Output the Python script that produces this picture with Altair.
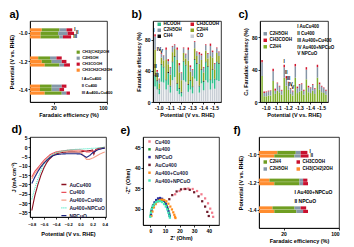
import altair as alt
import pandas as pd

FONT = "Liberation Sans"

# ---------------- data ----------------
# panel a
a_pots = ["-1.0", "-1.2", "-1.4"]
a_samples = ["I", "II", "III"]
a_key = ["I    AuCu400", "II   Cu400", "III  Au400+Cu400"]
a_legend = ["CH3(CH2)2OH", "C2H5OH", "CH3COOH", "CH3CH2CH2OH"]
a_colors = ["#6f9e22", "#8597a8", "#c8102e", "#ff8c2e"]
a_orange = [[10, 9, 9], [7, 10, 12.5], [8.5, 8.5, 12.5]]
a_green = [[15, 15, 16], [10, 8.5, 12.5], [10, 10, 14.5]]
a_gray = [[6, 8, 3], [5.5, 8.5, 4], [8.5, 6.5, 4]]
a_red = [[5, 5.5, 7], [4.5, 4, 5], [4, 4, 3]]
fe_ticks = [20, 40, 100]

# panel b / c
b_pots = ["-1.0", "-1.1", "-1.2", "-1.3", "-1.4", "-1.5"]
b_samples = ["I", "II", "III", "IV", "V"]
b_legend = ["HCOOH", "C2H5OH", "CH4", "CH3COOH", "C2H4", "CO"]
b_colors = ["#2fbf8c", "#8595a6", "#111111", "#d4152c", "#8ea324", "#c8ced5"]
b_CO = [[20, 16, 10, 26, 25], [16, 22, 12, 28, 32], [14, 10, 7, 28, 26],
        [13, 16, 11, 30, 27], [12, 24, 15, 28, 25], [16, 24, 17, 28, 27]]
b_HCOOH = [[14, 10.5, 6, 22, 19.5], [12, 15, 8, 23, 26], [9, 7, 5, 24, 21],
           [9, 11, 8, 24, 22], [8, 17, 11, 23, 20], [12, 17, 12, 23, 22]]
b_CH4 = [[1, 1.5, 1, 1, 1], [1, 1.5, 1, 1, 1], [1, 1, 1, 1, 1],
         [1, 1, 1, 1, 1], [1, 1, 1, 1, 1], [1, 1, 1, 1, 1]]
c_C2H4 = [[32, 7, 7, 8, 8], [26, 10, 14, 12, 9], [30, 20, 15, 10, 8],
          [30, 11, 13, 14, 9], [28, 12, 11, 14, 10], [30, 15, 12, 11, 9]]
c_C2H5OH = [[17, 4, 5, 5, 6], [12, 4, 9, 7, 5], [13, 9, 9, 6, 5],
            [14, 6, 8, 8, 5], [12, 6, 6, 7, 6], [13, 7, 7, 6, 5]]
c_CH3COOH = [[3, 2, 1, 1, 0.5], [3, 2.5, 1, 1, 1], [3, 3, 1, 1, 1],
             [3, 2, 1, 1, 1], [3, 2, 1, 1, 1], [3, 2, 1, 1, 1]]
c_legend = ["C2H5OH", "CH3COOH", "C2H4"]
c_colors = ["#8595a6", "#d4152c", "#7fb02a"]
c_key = ["I    AuCu400", "II   Cu400", "III  Au400+Cu400", "IV  Au400+NPCuO", "V    NPCuO"]

# panel d
d_names = ["AuCu400", "Cu400", "Au400+Cu400", "Au400+NPCuO", "NPCuO"]
d_colors = ["#8b1020", "#e8505a", "#f4a08a", "#40e6c0", "#1a237e"]
d_ticks = [-0.8, -0.6, -0.4, -0.2, 0.0, 0.2, 0.4]
d_pot = [-0.8, -0.75, -0.7, -0.65, -0.6, -0.55, -0.5, -0.45, -0.4, -0.3, -0.2,
         -0.1, 0.0, 0.05, 0.1, 0.15, 0.2, 0.22, 0.25, 0.3, 0.35, 0.4]
d_AuCu400 = [-34, -26, -20, -15, -11, -8, -6, -4.5, -3.5, -2.8, -2.5,
             -2.5, -2.5, -2.3, -2, -1.8, -1.5, -3.8, -1.2, -0.6, -0.3, 0]
d_Cu400 = [-16, -13, -11, -9, -7, -5.5, -4, -3.2, -2.5, -2, -1.6,
           -1.5, -1.5, -1.8, -2.5, -2.5, -2, -2.8, -1.5, -1, -0.7, -0.5]
d_AuCu = [-17, -14, -12, -10, -8, -6.5, -5, -4, -3, -2.3, -2,
          -2, -2.5, -4.5, -6.5, -6.5, -5.8, -5.5, -5, -4, -3.2, -2.5]
d_AuNP = [-28, -22, -17, -12.5, -9, -6.5, -5, -3.8, -3, -2, -1.5,
          -1.2, -1, -0.9, -0.8, -0.7, -0.6, -0.55, -0.5, -0.3, -0.2, 0]
d_NPCuO = [-19.5, -16, -13, -10.5, -8.5, -7, -5.5, -4.5, -4, -3.6, -3.5,
           -3.5, -3.6, -4.5, -5.5, -4.5, -3, -2.6, -2, -1.2, -0.8, -0.5]

# panel e
e_names = ["Cu400", "Au400", "NPCuO", "AuCu400", "Au400+Cu400", "Au400+NPCuO"]
e_colors = ["#f27b8c", "#1e9e3a", "#2a2a9a", "#6e1a2a", "#ff8c1a", "#40e8b8"]
e_x = {
    "Cu400": [17, 20, 23, 26, 29, 32, 35, 37.5, 39.5, 41, 42.3, 43],
    "AuCu400": [13, 15, 18, 21, 24, 27, 30, 33, 35.5, 37.5, 39, 40],
    "Au400": [0.2, 0.6, 1.3, 2.2, 3.3, 4.6, 6, 7.4, 8.8, 10.1, 11.2, 12.1, 12.8, 13.3],
    "NPCuO": [0.5, 1, 1.8, 2.8, 4, 5.3, 6.7, 8.1, 9.4, 10.6, 11.6, 12.4, 13, 13.3],
    "Au400+Cu400": [0.8, 1.5, 2.5, 3.7, 5, 6.5, 8, 9.5, 11, 12.4, 13.7, 14.8, 15.7, 16.4, 16.9, 17.2],
    "Au400+NPCuO": [0, 0.4, 1, 1.8, 2.8, 4, 5.3, 6.7, 8.1, 9.4, 10.6, 11.6, 12.4, 13, 13.4],
}
e_y = {
    "Cu400": [33.5, 34.3, 34.8, 34.9, 34.8, 34.3, 33.5, 32.5, 31.3, 30.0, 29.0, 28.0],
    "AuCu400": [32.3, 33.3, 34.2, 34.7, 34.8, 34.6, 34.0, 33.0, 31.8, 30.5, 29.2, 28.2],
    "Au400": [28.3, 29.3, 30.2, 30.9, 31.5, 31.9, 32.1, 32.1, 31.9, 31.4, 30.7, 29.9, 29.0, 28.2],
    "NPCuO": [28.6, 29.7, 30.7, 31.5, 32.1, 32.5, 32.6, 32.4, 31.9, 31.2, 30.3, 29.4, 28.6, 28.2],
    "Au400+Cu400": [28.2, 29.3, 30.3, 31.1, 31.7, 32.1, 32.2, 32.1, 31.8, 31.2, 30.5, 29.8, 29.1, 28.5, 28.0, 27.7],
    "Au400+NPCuO": [28.0, 29.0, 29.9, 30.6, 31.2, 31.6, 31.8, 31.8, 31.6, 31.1, 30.5, 29.8, 29.0, 28.3, 27.8],
}

# panel f
f_pots = ["-1.0", "-1.2", "-1.4"]
f_samples = ["I", "II"]
f_key = ["I     Au400+NPCuO", "II    NPCuO"]
f_legend = ["C2H4", "C2H5OH", "CH3COOH", "CH3(CH2)2OH"]
f_colors = ["#6f9e22", "#8597a8", "#c8102e", "#ff8c2e"]
f_orange = [[15, 12.5], [8.5, 12.5], [11, 12.5]]
f_green = [[15, 16.5], [24.5, 20.5], [18, 18]]
f_gray = [[4, 5], [3, 3], [5, 5.5]]
f_red = [[5.5, 7], [3.5, 4], [4.5, 4]]

# ---------------- helpers ----------------
def axis(**kw):
    base = dict(labelFontSize=5, titleFontSize=5.5, labelFontWeight="bold",
                titleFontWeight="bold", tickSize=2, labelPadding=1, titlePadding=2,
                grid=False, domainColor="black", tickColor="black",
                labelColor="black", titleColor="black", domainWidth=0.8, tickWidth=0.8)
    base.update(kw)
    return alt.Axis(**base)


def ptitle(t, dx=0):
    return alt.TitleParams(t, anchor="start", fontSize=11, fontWeight="bold",
                           offset=1, dx=dx, font=FONT, color="black")


def leg(x, y, cols=1, **kw):
    base = dict(orient="none", legendX=x, legendY=y, title=None, columns=cols,
                labelFontSize=4.5, labelFontWeight="bold", labelColor="black",
                symbolType="square", symbolSize=12, symbolStrokeWidth=0,
                rowPadding=1.5, columnPadding=4, padding=0, labelOffset=2,
                labelLimit=200)
    base.update(kw)
    return alt.Legend(**base)


def keyleg(x, y, **kw):
    return leg(x, y, symbolSize=0, symbolOpacity=0, labelOffset=0, **kw)


# ---------------- panel a ----------------
aW, aH = 77, 81
a_stack = [("CH3CH2CH2OH", a_orange), ("CH3(CH2)2OH", a_green), ("C2H5OH", a_gray), ("CH3COOH", a_red)]
rows = []
for i, p in enumerate(a_pots):
    for j, s in enumerate(a_samples):
        for k, (name, arr) in enumerate(a_stack):
            rows.append(dict(pot=p, sample=s, key=a_key[j], product=name, ord=k, value=arr[i][j]))
df_a = pd.DataFrame(rows)
tot_a = df_a.groupby(["pot", "sample"], as_index=False)["value"].sum()
tot_a = tot_a[tot_a.pot == a_pots[0]]

a_x = alt.X("value:Q", stack="zero", title="Faradaic efficiency (%)",
            scale=alt.Scale(domain=[0, 40, 100], range=[0, round(aW * 0.615), aW], nice=False, zero=False),
            axis=axis(values=fe_ticks))
a_y = alt.Y("pot:N", sort=a_pots, title="Potential (V vs. RHE)",
            scale=alt.Scale(paddingInner=0.64, paddingOuter=0.26), axis=axis(titlePadding=4))
a_yo = alt.YOffset("sample:N", sort=a_samples, scale=alt.Scale(paddingInner=0.08))
a_bars = alt.Chart(df_a).mark_bar().encode(
    x=a_x, y=a_y, yOffset=a_yo,
    color=alt.Color("product:N", scale=alt.Scale(domain=a_legend, range=a_colors),
                    legend=leg(aW * 0.60, aH * 0.36, labelFontSize=4, symbolSize=10, rowPadding=2)),
    order=alt.Order("ord:Q"),
    strokeDash=alt.StrokeDash("key:N", scale=alt.Scale(domain=a_key, range=[[1, 0]] * 3),
                              legend=keyleg(aW * 0.62, aH * 0.69, labelFontSize=4, rowPadding=3)),
)
a_txt = alt.Chart(tot_a).mark_text(fontSize=4.5, fontWeight="bold", align="left", dx=2).encode(
    x=alt.X("value:Q"), y=alt.Y("pot:N", sort=a_pots), yOffset=alt.YOffset("sample:N", sort=a_samples),
    text="sample:N")
panel_a = alt.layer(a_bars, a_txt).properties(width=aW, height=aH, title=ptitle("a)"))

# ---------------- panel b ----------------
bW, bH = 68, 81
b_stack = [("CO", b_CO), ("HCOOH", b_HCOOH), ("CH4", b_CH4), ("C2H4", c_C2H4),
           ("C2H5OH", c_C2H5OH), ("CH3COOH", c_CH3COOH)]
rows = []
for i, p in enumerate(b_pots):
    for j, s in enumerate(b_samples):
        for k, (name, arr) in enumerate(b_stack):
            rows.append(dict(pot=p, sample=s, product=name, ord=k, value=arr[i][j]))
df_b = pd.DataFrame(rows)
tot_b = df_b.groupby(["pot", "sample"], as_index=False)["value"].sum()
tot_b = tot_b[tot_b.pot == b_pots[0]]

bx = alt.X("pot:N", sort=b_pots, title="Potential (V vs. RHE)",
           scale=alt.Scale(paddingInner=0.1, paddingOuter=0.12), axis=axis(labelAngle=0))
bxo = alt.XOffset("sample:N", sort=b_samples, scale=alt.Scale(paddingInner=0.3))
b_bars = alt.Chart(df_b).mark_bar().encode(
    x=bx, xOffset=bxo,
    y=alt.Y("value:Q", stack="zero", title="Faradaic efficiency (%)",
            scale=alt.Scale(domain=[0, 104], nice=False),
            axis=axis(values=[0, 20, 40, 60, 80, 100], titlePadding=3)),
    color=alt.Color("product:N", scale=alt.Scale(domain=b_legend, range=b_colors),
                    legend=leg(4, 1, cols=2, columnPadding=8, rowPadding=1)),
    order=alt.Order("ord:Q"),
)
b_txt = alt.Chart(tot_b).mark_text(fontSize=4.5, fontWeight="bold", align="right", dx=-0.5, dy=-1,
                                   baseline="bottom").encode(
    x=alt.X("pot:N", sort=b_pots), xOffset=alt.XOffset("sample:N", sort=b_samples),
    y=alt.Y("value:Q"), text="sample:N")
panel_b = alt.layer(b_bars, b_txt).properties(width=bW, height=bH, title=ptitle("b)", dx=-5))

# ---------------- panel c ----------------
cW, cH = 68, 81
c_stack = [("C2H4", c_C2H4), ("C2H5OH", c_C2H5OH), ("CH3COOH", c_CH3COOH)]
rows = []
for i, p in enumerate(b_pots):
    for j, s in enumerate(b_samples):
        for k, (name, arr) in enumerate(c_stack):
            rows.append(dict(pot=p, sample=s, key=c_key[j], product=name, ord=k, value=arr[i][j]))
df_c = pd.DataFrame(rows)
tot_c = df_c.groupby(["pot", "sample"], as_index=False)["value"].sum()
tot_c = tot_c[tot_c.pot == b_pots[2]]

c_bars = alt.Chart(df_c).mark_bar().encode(
    x=bx, xOffset=bxo,
    y=alt.Y("value:Q", stack="zero", title="C\u2082 Faradaic efficiency (%)",
            scale=alt.Scale(domain=[0, 100], nice=False),
            axis=axis(values=[0, 20, 40, 60, 80, 100], titlePadding=3)),
    color=alt.Color("product:N", scale=alt.Scale(domain=c_legend, range=c_colors),
                    legend=leg(3, cH * 0.13)),
    order=alt.Order("ord:Q"),
    strokeDash=alt.StrokeDash("key:N", scale=alt.Scale(domain=c_key, range=[[1, 0]] * 5),
                              legend=keyleg(cW * 0.48, 4, rowPadding=1.8)),
)
c_txt = alt.Chart(tot_c).mark_text(fontSize=4.5, fontWeight="bold", align="center", dy=-1,
                                   baseline="bottom").encode(
    x=alt.X("pot:N", sort=b_pots), xOffset=alt.XOffset("sample:N", sort=b_samples),
    y=alt.Y("value:Q"), text="sample:N")
panel_c = alt.layer(c_bars, c_txt).properties(width=cW, height=cH, title=ptitle("c)", dx=-5))

# ---------------- panel d ----------------
dW, dH = 76, 80
d_series = [d_AuCu400, d_Cu400, d_AuCu, d_AuNP, d_NPCuO]
rows = []
for name, ys in zip(d_names, d_series):
    for k, (xv, yv) in enumerate(zip(d_pot, ys)):
        rows.append(dict(name=name, pot=xv, J=yv, ord=k))
df_d = pd.DataFrame(rows)
d_leg = dict(symbolType="stroke", symbolStrokeWidth=1.3, symbolSize=25, rowPadding=0.8,
             labelFontSize=5, labelColor="#1a1a40")
panel_d = alt.Chart(df_d).mark_line(strokeWidth=1.1).encode(
    x=alt.X("pot:Q", title="Potential (V vs. RHE)",
            scale=alt.Scale(domain=[-0.83, 0.42], nice=False, zero=False),
            axis=axis(values=d_ticks, format=".1f", labelFontSize=4, labelOverlap=False,
                      labelPadding=3, titlePadding=5)),
    y=alt.Y("J:Q", title="J (mA cm\u207b\u00b2)",
            scale=alt.Scale(domain=[-37.5, 5.5], nice=False, zero=False),
            axis=axis(values=[5, 0, -5, -10, -15, -20, -25, -30, -35])),
    color=alt.Color("name:N", scale=alt.Scale(domain=d_names, range=d_colors),
                    legend=leg(dW * 0.40, dH * 0.55, **d_leg)),
    strokeDash=alt.StrokeDash("name:N", scale=alt.Scale(domain=d_names,
                                                        range=[[1, 0], [1, 0], [1, 0], [1, 1], [1, 0]]),
                              legend=leg(dW * 0.40, dH * 0.55, **d_leg)),
    order=alt.Order("ord:Q"),
).properties(width=dW, height=dH, title=ptitle("d)"))

# ---------------- panel e ----------------
eW, eH = 76, 88
rows = []
for name in e_names:
    for xv, yv in zip(e_x[name], e_y[name]):
        rows.append(dict(name=name, zr=xv, zi=yv))
df_e = pd.DataFrame(rows)
panel_e = alt.Chart(df_e).mark_square(size=5, opacity=1).encode(
    x=alt.X("zr:Q", title="Z' (Ohm)", scale=alt.Scale(domain=[-5, 47], nice=False, zero=False),
            axis=axis(values=[0, 10, 20, 30, 40])),
    y=alt.Y("zi:Q", title="-Z'' (Ohm)", scale=alt.Scale(domain=[26, 47.5], nice=False, zero=False),
            axis=axis(values=[30, 35, 40, 45], titlePadding=4)),
    color=alt.Color("name:N", scale=alt.Scale(domain=e_names, range=e_colors),
                    legend=leg(4, 2, symbolSize=6, rowPadding=1.8, labelFontSize=5,
                               labelColor="#1a1a40", labelOffset=3)),
).properties(width=eW, height=eH, title=ptitle("e)", dx=-5))

# ---------------- panel f ----------------
fW, fH = 80, 91
f_stack = [("CH3(CH2)2OH", f_orange), ("C2H4", f_green), ("C2H5OH", f_gray), ("CH3COOH", f_red)]
rows = []
for i, p in enumerate(f_pots):
    for j, s in enumerate(f_samples):
        for k, (name, arr) in enumerate(f_stack):
            rows.append(dict(pot=p, sample=s, key=f_key[j], product=name, ord=k, value=arr[i][j]))
df_f = pd.DataFrame(rows)
tot_f = df_f.groupby(["pot", "sample"], as_index=False)["value"].sum()
tot_f = tot_f[tot_f.pot == f_pots[0]]

f_x = alt.X("value:Q", stack="zero", title="Faradaic efficiency (%)",
            scale=alt.Scale(domain=[0, 40, 100], range=[0, round(fW * 0.61), fW], nice=False, zero=False),
            axis=axis(values=fe_ticks))
f_y = alt.Y("pot:N", sort=f_pots, title="Potential (V vs. RHE)",
            scale=alt.Scale(paddingInner=0.72, paddingOuter=0.5), axis=axis(titlePadding=4))
f_yo = alt.YOffset("sample:N", sort=f_samples, scale=alt.Scale(paddingInner=0.1))
f_bars = alt.Chart(df_f).mark_bar().encode(
    x=f_x, y=f_y, yOffset=f_yo,
    color=alt.Color("product:N", scale=alt.Scale(domain=f_legend, range=f_colors),
                    legend=leg(4, fH * 0.25, cols=2, columnPadding=8, rowPadding=2)),
    order=alt.Order("ord:Q"),
    strokeDash=alt.StrokeDash("key:N", scale=alt.Scale(domain=f_key, range=[[1, 0]] * 2),
                              legend=keyleg(fW * 0.38, fH * 0.58, rowPadding=2.5, labelFontSize=5)),
)
f_txt = alt.Chart(tot_f).mark_text(fontSize=4.5, fontWeight="bold", align="left", dx=2).encode(
    x=alt.X("value:Q"), y=alt.Y("pot:N", sort=f_pots), yOffset=alt.YOffset("sample:N", sort=f_samples),
    text="sample:N")
panel_f = alt.layer(f_bars, f_txt).properties(width=fW, height=fH, title=ptitle("f)", dx=-5))

# ---------------- assemble ----------------
res = dict(color="independent", strokeDash="independent")
row1 = alt.hconcat(panel_a, panel_b, panel_c, spacing=16).resolve_scale(**res).resolve_legend(**res)
row2 = alt.hconcat(panel_d, panel_e, panel_f, spacing=12).resolve_scale(**res).resolve_legend(**res)
chart = (
    alt.vconcat(row1, row2, spacing=5)
    .resolve_scale(**res).resolve_legend(**res)
    .properties(padding=0)
    .configure(font=FONT)
    .configure_view(stroke="black", strokeWidth=0.8)
)
chart.save("out.html", embed_options={"renderer": "svg", "actions": False})
